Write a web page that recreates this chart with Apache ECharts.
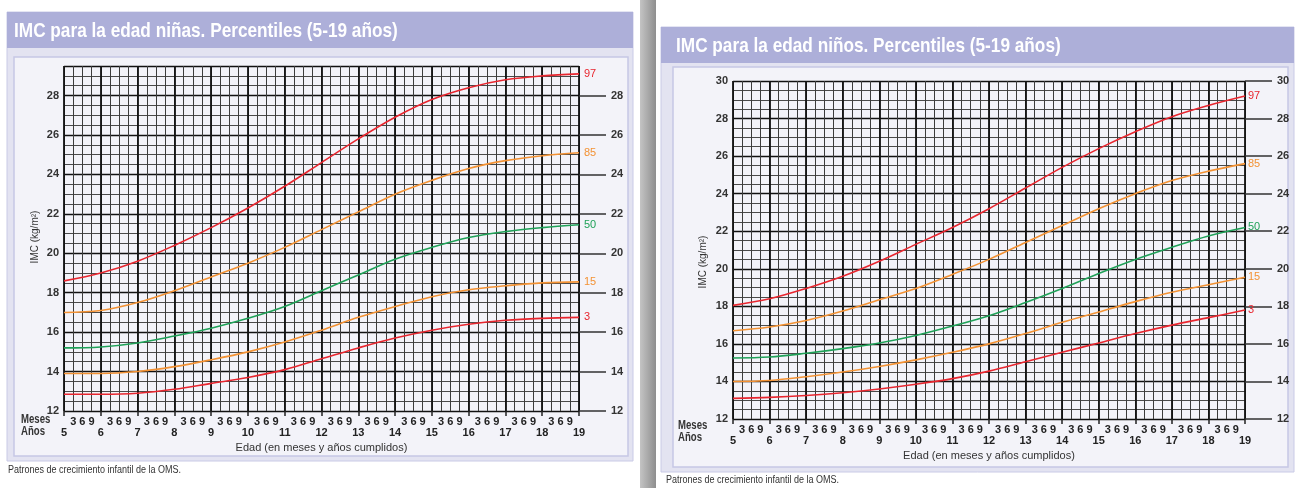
<!DOCTYPE html>
<html>
<head>
<meta charset="utf-8">
<script src="https://cdn.jsdelivr.net/npm/echarts@6/dist/echarts.min.js"></script>
<style>
  html, body { margin: 0; padding: 0; background: #ffffff; }
  #chart { width: 1297px; height: 488px; }
</style>
</head>
<body>
<div id="chart"></div>
<script>
// Edad en años (5 a 19)
const ages = [5, 6, 7, 8, 9, 10, 11, 12, 13, 14, 15, 16, 17, 18, 19];

// IMC (kg/m²) por percentil — niñas
const girlsP97 = [18.6, 19.0, 19.6, 20.4, 21.3, 22.3, 23.4, 24.6, 25.8, 26.9, 27.8, 28.4, 28.8, 29.0, 29.1];
const girlsP85 = [17.0, 17.1, 17.5, 18.1, 18.8, 19.5, 20.3, 21.2, 22.1, 23.0, 23.7, 24.3, 24.7, 24.95, 25.1];
const girlsP50 = [15.2, 15.25, 15.45, 15.8, 16.2, 16.7, 17.3, 18.1, 18.9, 19.7, 20.3, 20.8, 21.1, 21.3, 21.45];
const girlsP15 = [13.9, 13.9, 14.0, 14.25, 14.6, 15.0, 15.5, 16.1, 16.75, 17.3, 17.8, 18.15, 18.35, 18.5, 18.55];
const girlsP3  = [12.85, 12.85, 12.9, 13.1, 13.4, 13.7, 14.1, 14.65, 15.2, 15.7, 16.1, 16.4, 16.6, 16.7, 16.75];

// IMC (kg/m²) por percentil — niños
const boysP97 = [18.05, 18.4, 18.95, 19.6, 20.4, 21.3, 22.2, 23.2, 24.3, 25.4, 26.4, 27.3, 28.1, 28.7, 29.2];
const boysP85 = [16.7, 16.9, 17.25, 17.75, 18.35, 18.95, 19.7, 20.5, 21.4, 22.3, 23.2, 24.0, 24.7, 25.2, 25.6];
const boysP50 = [15.25, 15.3, 15.5, 15.75, 16.05, 16.45, 16.95, 17.5, 18.2, 18.95, 19.75, 20.5, 21.15, 21.75, 22.2];
const boysP15 = [14.0, 14.05, 14.25, 14.5, 14.8, 15.15, 15.55, 16.0, 16.55, 17.15, 17.7, 18.25, 18.75, 19.15, 19.55];
const boysP3  = [13.1, 13.15, 13.25, 13.4, 13.6, 13.85, 14.15, 14.55, 15.05, 15.55, 16.05, 16.55, 17.0, 17.4, 17.8];

// Marcas del eje de IMC
const girlsYTicks = [12, 14, 16, 18, 20, 22, 24, 26, 28];
const boysYTicks = [12, 14, 16, 18, 20, 22, 24, 26, 28, 30];
// Meses dentro de cada año
const monthLabels = ['', '3', '6', '9'];

const percentiles = ['97', '85', '50', '15', '3'];
const lineColors = ['#e8262f', '#f39234', '#1fa158', '#f39234', '#e8262f'];

const FONT = "'Liberation Sans', Arial, sans-serif";

const chart = echarts.init(document.getElementById('chart'), null, { renderer: 'canvas' });

const grids = [
  { left: 64, top: 66, width: 515, height: 345 },
  { left: 733, top: 81, width: 512, height: 338 }
];

const xAxes = [];
const yAxes = [];
const series = [];

function addPanel(g, yMax, yTicks, curves, labelDist) {
  // Líneas finas cada 3 meses y etiquetas de meses
  xAxes.push({
    gridIndex: g, type: 'value', position: 'bottom', min: 5, max: 19, interval: 0.25,
    axisLine: { show: false }, axisTick: { show: false },
    splitLine: { show: true, lineStyle: { color: '#3c3c3c', width: 1 } },
    axisLabel: {
      margin: 5, fontFamily: FONT, fontSize: 11, fontWeight: 'bold', color: '#222',
      formatter: v => monthLabels[Math.round(v * 4) % 4]
    }
  });
  // Años, líneas gruesas y nombre del eje
  xAxes.push({
    gridIndex: g, type: 'value', position: 'bottom', min: 5, max: 19, interval: 1,
    axisLine: { show: false },
    axisTick: { show: true, length: 5, lineStyle: { color: '#222', width: 1.5 } },
    splitLine: { show: true, lineStyle: { color: '#111', width: 1.8 } },
    axisLabel: { margin: 16, fontFamily: FONT, fontSize: 11, fontWeight: 'bold', color: '#222' },
    name: 'Edad (en meses y años cumplidos)', nameLocation: 'middle', nameGap: 29,
    nameTextStyle: { fontFamily: FONT, fontSize: 11, color: '#333' }
  });
  const yFine = yAxes.length;
  // Líneas cada 0,5 kg/m²
  yAxes.push({
    gridIndex: g, type: 'value', min: 12, max: yMax, interval: 0.5, position: 'left',
    axisLine: { show: false }, axisTick: { show: false }, axisLabel: { show: false },
    splitLine: { show: true, lineStyle: { color: '#4a4a4a', width: 1 } }
  });
  // Etiquetas izquierdas y líneas marcadas
  yAxes.push({
    gridIndex: g, type: 'value', min: 12, max: yMax, interval: 2, position: 'left',
    axisLine: { show: false }, axisTick: { show: false },
    axisLabel: {
      margin: 5, fontFamily: FONT, fontSize: 11, fontWeight: 'bold', color: '#333',
      customValues: yTicks
    },
    splitLine: { show: true, lineStyle: { color: '#111', width: 1.4 } }
  });
  // Etiquetas derechas con marcas largas
  yAxes.push({
    gridIndex: g, type: 'value', min: 12, max: yMax, interval: 2, position: 'right',
    axisLine: { show: false },
    axisTick: { show: true, length: 27, customValues: yTicks, lineStyle: { color: '#333', width: 1.5 } },
    axisLabel: {
      margin: 32, fontFamily: FONT, fontSize: 11, fontWeight: 'bold', color: '#333',
      customValues: yTicks
    },
    splitLine: { show: false }
  });
  curves.forEach((vals, i) => {
    series.push({
      type: 'line',
      xAxisIndex: g * 2, yAxisIndex: yFine,
      data: ages.map((a, k) => [a, vals[k]]),
      smooth: 0.35, symbol: 'none', silent: true,
      lineStyle: { color: lineColors[i], width: 1.6 },
      endLabel: {
        show: true, formatter: percentiles[i], distance: labelDist,
        color: lineColors[i], fontFamily: FONT, fontSize: 11
      },
      z: 5
    });
  });
}

addPanel(0, 29.5, girlsYTicks, [girlsP97, girlsP85, girlsP50, girlsP15, girlsP3], 5);
addPanel(1, 30, boysYTicks, [boysP97, boysP85, boysP50, boysP15, boysP3], 3);

function panelGraphics(o) {
  return [
    { type: 'rect', z: -10, shape: { x: o.x, y: o.y, width: o.w, height: o.h },
      style: { fill: '#e3e3f1', stroke: '#c9cae6', lineWidth: 1 } },
    { type: 'rect', z: -9, shape: { x: o.x, y: o.y, width: o.w, height: 36 },
      style: { fill: '#adafd9' } },
    { type: 'rect', z: -8, shape: { x: o.ix, y: o.iy, width: o.iw, height: o.ih },
      style: { fill: '#f3f3f9', stroke: '#c6c7e5', lineWidth: 1.5 } },
    { type: 'text', z: 10, x: o.tx, y: o.y + 19, scaleX: 0.82,
      style: { text: o.title, fill: '#ffffff', font: 'bold 21px ' + FONT, textVerticalAlign: 'middle' } },
    { type: 'text', z: 10, x: o.mx, y: o.my, scaleX: 0.8,
      style: { text: 'Meses', fill: '#333', font: 'bold 12px ' + FONT, textVerticalAlign: 'middle' } },
    { type: 'text', z: 10, x: o.mx, y: o.ay, scaleX: 0.8,
      style: { text: 'Años', fill: '#333', font: 'bold 12px ' + FONT, textVerticalAlign: 'middle' } },
    { type: 'text', z: 10, x: o.nx, y: o.ny, rotation: Math.PI / 2,
      style: { text: 'IMC (kg/m²)', fill: '#333', font: '10px ' + FONT, textAlign: 'center', textVerticalAlign: 'middle' } },
    { type: 'text', z: 10, x: o.fx, y: o.fy, scaleX: 0.9,
      style: { text: 'Patrones de crecimiento infantil de la OMS.', fill: '#333', font: '10px ' + FONT, textVerticalAlign: 'middle' } }
  ];
}

const graphics = [
  { type: 'rect', z: -11, shape: { x: 640, y: 0, width: 16, height: 488 },
    style: { fill: new echarts.graphic.LinearGradient(0, 0, 1, 0, [
      { offset: 0, color: '#c4c4c4' }, { offset: 1, color: '#8e8e8e' }]) } }
].concat(
  panelGraphics({ x: 7, y: 12, w: 626, h: 449, ix: 14, iy: 57, iw: 614, ih: 399, tx: 14,
    title: 'IMC para la edad niñas. Percentiles (5-19 años)',
    mx: 21, my: 420, ay: 432, nx: 35, ny: 237, fx: 8, fy: 470 }),
  panelGraphics({ x: 661, y: 27, w: 633, h: 445, ix: 673, iy: 67, iw: 615, ih: 400, tx: 676,
    title: 'IMC para la edad niños. Percentiles (5-19 años)',
    mx: 678, my: 426, ay: 438, nx: 703, ny: 262, fx: 666, fy: 480 })
);

chart.setOption({
  backgroundColor: '#ffffff',
  animation: false,
  grid: grids,
  xAxis: xAxes,
  yAxis: yAxes,
  series: series,
  graphic: { elements: graphics }
});
</script>
</body>
</html>
